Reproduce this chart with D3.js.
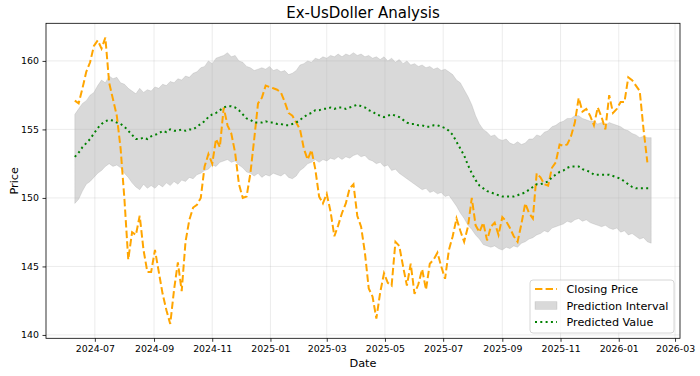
<!DOCTYPE html>
<html>
<head>
<meta charset="utf-8">
<script src="https://cdn.jsdelivr.net/npm/d3@7"></script>
<style>
  html, body { margin: 0; padding: 0; background: #fff; }
  svg { display: block; font-family: "DejaVu Sans", sans-serif; }
</style>
</head>
<body>
<svg id="chart" width="700" height="376"></svg>
<script>
// ---- data ----
const startDate = "2024-06-10";   // first observation
const stepDays = 4;               // spacing between observations

const closingPrice = [
  157.1,156.9,158.0,159.2,159.9,161.1,161.5,160.9,161.7,158.4,
  157.2,156.0,153.6,149.9,145.5,147.5,147.3,148.7,146.2,144.6,
  144.6,146.2,144.6,143.0,141.8,140.8,143.3,145.3,143.2,146.8,
  148.4,149.3,149.5,150.0,152.3,153.2,152.5,154.3,153.7,156.6,
  155.3,154.7,153.3,151.0,150.0,150.1,151.8,154.3,156.9,157.3,
  158.2,158.1,158.0,157.9,157.7,157.0,156.2,156.0,155.5,155.0,
  153.6,152.8,153.5,152.1,150.1,149.6,150.3,149.0,147.2,148.0,
  148.9,149.6,150.7,151.0,148.7,147.9,146.0,143.4,142.8,141.2,
  143.1,144.5,143.8,143.6,146.8,146.5,145.0,143.6,145.2,143.0,
  143.7,144.8,143.3,145.2,145.5,146.0,145.0,144.1,146.2,147.2,
  148.5,147.6,146.8,147.9,150.0,148.0,147.5,148.2,146.9,147.9,
  148.2,147.3,148.6,148.3,147.8,147.2,146.8,148.1,149.6,148.9,
  148.5,151.8,151.5,151.0,150.9,152.2,152.6,153.9,153.8,153.9,
  154.5,155.5,157.3,156.3,156.5,156.0,155.3,156.6,155.9,155.0,
  157.5,156.2,156.5,157.0,157.0,158.8,158.6,158.2,157.8,155.0,
  152.6
];

const predictedValue = [
  153.0,153.3,153.7,154.0,154.3,154.7,155.1,155.4,155.6,155.7,
  155.65,155.5,155.4,155.2,154.9,154.6,154.3,154.3,154.4,154.3,
  154.5,154.6,154.7,154.9,154.8,155.0,154.9,154.9,155.0,154.9,
  155.0,155.0,155.2,155.4,155.6,155.9,156.1,156.2,156.4,156.6,
  156.7,156.7,156.6,156.4,156.1,155.8,155.7,155.5,155.5,155.5,
  155.6,155.5,155.5,155.4,155.4,155.3,155.3,155.4,155.5,155.7,
  155.9,156.1,156.2,156.4,156.4,156.5,156.5,156.6,156.5,156.6,
  156.6,156.5,156.6,156.7,156.8,156.7,156.6,156.4,156.3,156.1,
  156.0,155.9,156.0,156.1,156.0,155.9,155.7,155.5,155.4,155.4,
  155.3,155.3,155.2,155.2,155.3,155.3,155.2,155.1,154.9,154.6,
  154.1,153.6,153.1,152.4,151.8,151.3,150.9,150.7,150.5,150.4,
  150.3,150.2,150.1,150.1,150.1,150.1,150.2,150.3,150.4,150.6,
  150.8,151.0,151.0,151.1,151.2,151.5,151.7,151.9,152.0,152.2,
  152.3,152.3,152.3,152.1,152.0,151.9,151.7,151.7,151.7,151.7,
  151.7,151.6,151.5,151.4,151.2,151.0,150.8,150.7,150.7,150.7,
  150.7,150.7
];

const intervalUpper = [
  156.1,156.5,156.9,157.1,157.5,157.7,158.2,158.6,158.4,158.9,
  158.7,158.8,158.4,158.3,158.0,157.8,157.6,158.0,157.7,157.9,
  157.8,158.1,158.0,158.3,158.2,158.5,158.4,158.7,158.6,158.9,
  158.8,159.1,159.2,159.5,159.6,160.0,159.8,160.2,160.3,160.4,
  160.6,160.3,160.4,160.0,159.9,159.6,159.5,159.3,159.4,159.5,
  159.4,159.6,159.3,159.4,159.2,159.3,159.0,159.1,159.3,159.7,
  159.8,160.0,159.9,160.2,160.1,160.3,160.2,160.4,160.3,160.5,
  160.3,160.5,160.4,160.6,160.4,160.5,160.3,160.4,160.2,160.3,
  160.1,160.3,160.0,160.2,159.9,160.1,159.8,160.0,159.7,159.8,
  159.6,159.7,159.5,159.6,159.4,159.5,159.3,159.4,159.2,159.0,
  158.6,158.4,157.9,157.4,156.8,156.0,155.4,155.0,154.8,154.5,
  154.6,154.3,154.2,154.3,154.0,153.9,154.1,153.9,154.0,154.3,
  154.3,154.6,154.5,154.8,154.9,155.2,155.3,155.5,155.6,155.8,
  155.8,156.0,156.0,155.8,155.7,155.6,155.6,155.4,155.5,155.3,
  155.5,155.4,155.3,155.2,155.0,154.9,154.7,154.6,154.4,154.5,
  154.4,154.4
];

const intervalLower = [
  149.6,149.9,150.5,151.0,151.2,151.5,151.8,152.0,152.3,152.5,
  152.3,152.4,152.2,151.8,151.5,151.1,150.8,150.6,151.0,150.7,
  150.9,150.7,151.0,150.8,151.1,150.9,151.2,151.0,151.3,151.2,
  151.5,151.4,151.7,151.8,152.0,152.1,152.4,152.3,152.6,152.7,
  152.8,152.6,152.7,152.4,152.2,151.9,151.8,151.6,151.8,151.5,
  151.7,151.6,151.8,151.7,151.6,151.8,151.5,151.4,151.6,152.0,
  152.2,152.5,152.6,152.8,152.6,152.8,152.7,152.9,152.8,153.0,
  152.8,153.0,152.9,153.1,153.2,153.0,153.1,152.8,152.7,152.5,
  152.6,152.3,152.4,152.0,152.1,151.8,151.6,151.4,151.2,151.0,
  150.8,150.6,150.7,150.4,150.5,150.3,150.4,150.1,150.2,149.8,
  149.4,148.9,148.5,148.0,147.7,147.3,147.0,146.6,146.5,146.4,
  146.5,146.3,146.2,146.4,146.3,146.5,146.4,146.7,146.8,147.0,
  147.1,147.3,147.4,147.6,147.5,147.8,147.9,148.0,148.1,148.3,
  148.2,148.4,148.5,148.3,148.4,148.2,148.1,148.0,147.9,148.0,
  147.8,147.7,147.8,147.5,147.6,147.3,147.4,147.2,147.0,147.1,
  146.8,146.7
];

const yTickValues = [140, 145, 150, 155, 160];
const titleText = "Ex-UsDoller Analysis";
const xLabel = "Date";
const yLabel = "Price";
const legendLabels = ["Closing Price", "Prediction Interval", "Predicted Value"];

// ---- build records ----
const t0 = d3.utcParse("%Y-%m-%d")(startDate);
const dateAt = i => d3.utcDay.offset(t0, i * stepDays);
const closeData = closingPrice.map((v, i) => ({ date: dateAt(i), v }));
const predData = predictedValue.map((v, i) => ({ date: dateAt(i), v }));
const bandData = intervalUpper.map((u, i) => ({ date: dateAt(i), u, l: intervalLower[i] }));

// ---- layout ----
const svg = d3.select("#chart");
const W = 700, H = 376;
const margin = { left: 46, right: 20, top: 23.3, bottom: 37.7 };
const iw = W - margin.left - margin.right;
const ih = H - margin.top - margin.bottom;

// matplotlib-like 5% margins
const allDates = bandData.map(d => d.date);
const dExt = d3.extent(allDates);
const dPad = (dExt[1] - dExt[0]) * 0.05;
const x = d3.scaleUtc()
  .domain([new Date(+dExt[0] - dPad), new Date(+dExt[1] + dPad)])
  .range([margin.left, margin.left + iw]);

const allVals = closingPrice.concat(predictedValue, intervalUpper, intervalLower);
const vExt = d3.extent(allVals);
const vPad = (vExt[1] - vExt[0]) * 0.05;
const y = d3.scaleLinear()
  .domain([vExt[0] - vPad, vExt[1] + vPad])
  .range([margin.top + ih, margin.top]);

const xTicks = d3.utcMonth.every(2).range(x.domain()[0], x.domain()[1]);

const g = svg.append("g");

// band
g.append("path")
  .datum(bandData)
  .attr("fill", "#808080")
  .attr("fill-opacity", 0.3)
  .attr("stroke", "#808080")
  .attr("stroke-opacity", 0.3)
  .attr("stroke-width", 0.6)
  .attr("d", d3.area().x(d => x(d.date)).y0(d => y(d.l)).y1(d => y(d.u)));

// grid
const grid = g.append("g").attr("stroke", "#b0b0b0").attr("stroke-opacity", 0.3).attr("stroke-width", 0.8);
xTicks.forEach(t => {
  grid.append("line").attr("x1", x(t)).attr("x2", x(t)).attr("y1", margin.top).attr("y2", margin.top + ih);
});
yTickValues.forEach(t => {
  grid.append("line").attr("y1", y(t)).attr("y2", y(t)).attr("x1", margin.left).attr("x2", margin.left + iw);
});

// closing price
g.append("path")
  .datum(closeData)
  .attr("fill", "none")
  .attr("stroke", "#FFA500")
  .attr("stroke-width", 2)
  .attr("stroke-dasharray", "7.4,3.2")
  .attr("d", d3.line().x(d => x(d.date)).y(d => y(d.v)));

// predicted value
g.append("path")
  .datum(predData)
  .attr("fill", "none")
  .attr("stroke", "#008000")
  .attr("stroke-width", 2)
  .attr("stroke-dasharray", "2,3.3")
  .attr("d", d3.line().x(d => x(d.date)).y(d => y(d.v)));

// axes
const xAxis = d3.axisBottom(x).tickValues(xTicks).tickFormat(d3.utcFormat("%Y-%m")).tickSize(3.5).tickPadding(3.5);
const yAxis = d3.axisLeft(y).tickValues(yTickValues).tickSize(3.5).tickPadding(3.5);

const gx = svg.append("g").attr("transform", `translate(0,${margin.top + ih})`).call(xAxis);
const gy = svg.append("g").attr("transform", `translate(${margin.left},0)`).call(yAxis);
[gx, gy].forEach(a => {
  a.select(".domain").remove();
  a.selectAll(".tick line").attr("stroke", "#000").attr("stroke-width", 0.8);
  a.selectAll(".tick text").attr("fill", "#000").style("font-size", "9.4px").style("font-family", "DejaVu Sans");
});

// frame
svg.append("rect")
  .attr("x", margin.left).attr("y", margin.top)
  .attr("width", iw).attr("height", ih)
  .attr("fill", "none").attr("stroke", "#000").attr("stroke-width", 0.8);

// title and labels
svg.append("text")
  .attr("x", margin.left + iw / 2).attr("y", 18)
  .attr("text-anchor", "middle")
  .style("font-size", "15px")
  .text(titleText);

svg.append("text")
  .attr("x", margin.left + iw / 2).attr("y", 367)
  .attr("text-anchor", "middle")
  .style("font-size", "11.3px")
  .text(xLabel);

svg.append("text")
  .attr("transform", `translate(18,${margin.top + ih / 2}) rotate(-90)`)
  .attr("text-anchor", "middle")
  .style("font-size", "11.3px")
  .text(yLabel);

// legend
const lg = svg.append("g");
lg.append("rect")
  .attr("x", 530).attr("y", 280).attr("width", 144).attr("height", 53)
  .attr("rx", 3)
  .attr("fill", "#fff").attr("fill-opacity", 0.8)
  .attr("stroke", "#cccccc").attr("stroke-width", 0.8);

const rows = [289, 305.5, 322];
lg.append("line").attr("x1", 535).attr("x2", 557).attr("y1", rows[0]).attr("y2", rows[0])
  .attr("stroke", "#FFA500").attr("stroke-width", 2).attr("stroke-dasharray", "7.4,3.2");
lg.append("rect").attr("x", 535).attr("y", rows[1] - 3.8).attr("width", 22).attr("height", 7.6)
  .attr("fill", "#808080").attr("fill-opacity", 0.3).attr("stroke", "#808080").attr("stroke-opacity", 0.3).attr("stroke-width", 0.6);
lg.append("line").attr("x1", 535).attr("x2", 557).attr("y1", rows[2]).attr("y2", rows[2])
  .attr("stroke", "#008000").attr("stroke-width", 2).attr("stroke-dasharray", "2,3.3");

legendLabels.forEach((t, i) => {
  lg.append("text")
    .attr("x", 566.5).attr("y", rows[i] + 4)
    .style("font-size", "11.2px")
    .text(t);
});
</script>
</body>
</html>
